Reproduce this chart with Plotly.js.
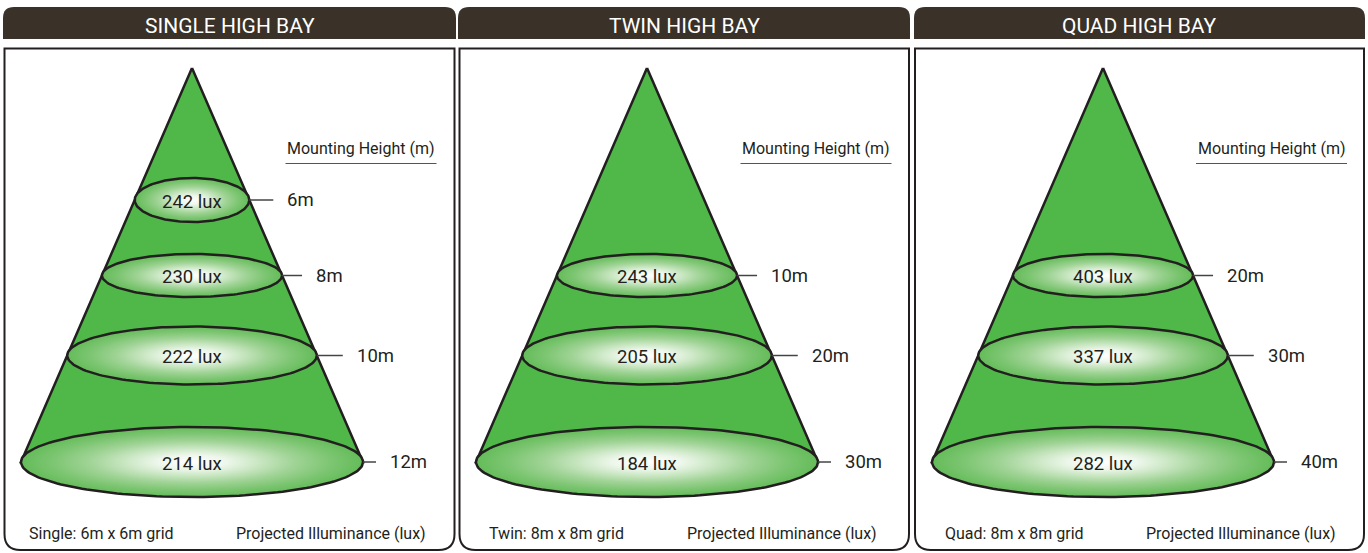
<!DOCTYPE html>
<html>
<head>
<meta charset="utf-8">
<script src="https://cdn.plot.ly/plotly-3.0.1.min.js"></script>
<style>
  html, body { margin: 0; padding: 0; background: #ffffff; }
  #chart { width: 1368px; height: 553px; }
</style>
</head>
<body>
<div id="chart"></div>
<script>
// ---------------- DATA ----------------
const panelTitles = ["SINGLE HIGH BAY", "TWIN HIGH BAY", "QUAD HIGH BAY"];
const gridNotes = ["Single: 6m x 6m grid", "Twin: 8m x 8m grid", "Quad: 8m x 8m grid"];
const axisNote = "Projected Illuminance (lux)";
const heightNote = "Mounting Height (m)";

const singleHeights = [6, 8, 10, 12];
const singleLux = [242, 230, 222, 214];
const twinHeights = [10, 20, 30];
const twinLux = [243, 205, 184];
const quadHeights = [20, 30, 40];
const quadLux = [403, 337, 282];

// ---------------- LAYOUT / GEOMETRY (positions, sizes, styles) ----------------
const W = 1368, H = 553;
const headerLeft = [3, 458, 914];
const headerRight = [456, 910, 1365];
const boxLeft = [4.5, 459.5, 915];
const boxRight = [454.5, 909, 1364];
const coneCx = [192, 647, 1103];
const apexY = 68, baseY = 462, baseRx = 171;
// ring levels inside a cone: centre y, vertical radius, tick length
const levelY = { A: 200, B: 275.5, C: 355.5, D: 462 };
const levelRy = { A: 22, B: 21.5, C: 29, D: 35 };
const levelTick = { A: 24, B: 20, C: 26, D: 13 };
const panelLevels = [["A", "B", "C", "D"], ["B", "C", "D"], ["B", "C", "D"]];
const noteLeft = [27, 487, 943];
const noteRight = [428, 879, 1338];

const FONT = "Roboto, 'DejaVu Sans', sans-serif";
const INK = "#231f20";
const CONE_GREEN = "#4fb848";
const HEADER_BROWN = "#3a3128";
const ringScale = [
  [0, "#ffffff"], [0.2, "#eef7ec"], [0.4, "#c8e6c1"],
  [0.6, "#a0d396"], [0.82, "#7cc571"], [1, "#64bc59"]
];

const panelsData = [
  { heights: singleHeights, lux: singleLux },
  { heights: twinHeights, lux: twinLux },
  { heights: quadHeights, lux: quadLux }
];

const traces = [];
const annotations = [];
const shapes = [];

panelsData.forEach(function (p, i) {
  const cx = coneCx[i];
  // header (rounded top corners)
  const hl = headerLeft[i], hr = headerRight[i], ht = 7, hb = 39, r = 11;
  shapes.push({
    type: "path", xref: "x", yref: "y", layer: "below",
    path: `M ${hl},${hb} L ${hl},${ht + r} Q ${hl},${ht} ${hl + r},${ht} L ${hr - r},${ht} Q ${hr},${ht} ${hr},${ht + r} L ${hr},${hb} Z`,
    fillcolor: HEADER_BROWN, line: { width: 0 }
  });
  annotations.push({
    x: (hl + hr) / 2, y: 26, xref: "x", yref: "y", text: panelTitles[i],
    showarrow: false, xanchor: "center", yanchor: "middle",
    font: { family: FONT, size: 21, color: "#ffffff" }
  });
  // box (rounded bottom corners)
  const bl = boxLeft[i], br = boxRight[i], bt = 48.5, bb = 550, rr = 16;
  shapes.push({
    type: "path", xref: "x", yref: "y", layer: "below",
    path: `M ${bl},${bt} L ${br},${bt} L ${br},${bb - rr} Q ${br},${bb} ${br - rr},${bb} L ${bl + rr},${bb} Q ${bl},${bb} ${bl},${bb - rr} Z`,
    fillcolor: "rgba(0,0,0,0)", line: { color: INK, width: 2 }
  });
  // cone
  traces.push({
    type: "scatter", mode: "lines", hoverinfo: "skip", showlegend: false,
    x: [cx, cx - baseRx, cx + baseRx, cx],
    y: [apexY, baseY, baseY, apexY],
    fill: "toself", fillcolor: CONE_GREEN,
    line: { color: INK, width: 2.5 }
  });
  // rings
  panelLevels[i].forEach(function (lv, k) {
    const cy = levelY[lv], ry = levelRy[lv];
    const rx = baseRx * (cy - apexY) / (baseY - apexY);
    const ex = [], ey = [];
    for (let t = 0; t <= 180; t++) {
      const a = (t / 180) * 2 * Math.PI;
      ex.push(cx + rx * Math.cos(a));
      ey.push(cy + ry * Math.sin(a));
    }
    traces.push({
      type: "scatter", mode: "lines", hoverinfo: "skip", showlegend: false,
      x: ex, y: ey, fill: "toself",
      fillgradient: { type: "radial", colorscale: ringScale },
      line: { color: INK, width: 2.5 }
    });
    const tickStart = cx + rx, tickEnd = cx + rx + levelTick[lv];
    traces.push({
      type: "scatter", mode: "lines", hoverinfo: "skip", showlegend: false,
      x: [tickStart, tickEnd], y: [cy, cy],
      line: { color: "#444444", width: 1.5 }
    });
    annotations.push({
      x: cx, y: cy + 1.5, xref: "x", yref: "y", text: p.lux[k] + " lux",
      showarrow: false, xanchor: "center", yanchor: "middle",
      font: { family: FONT, size: 18.5, color: INK }
    });
    annotations.push({
      x: tickEnd + 12, y: cy, xref: "x", yref: "y", text: p.heights[k] + "m",
      showarrow: false, xanchor: "left", yanchor: "middle",
      font: { family: FONT, size: 18.5, color: INK }
    });
  });
  // mounting height label + underline
  const mhl = bl + 281, mhr = bl + 432;
  annotations.push({
    x: (mhl + mhr) / 2, y: 148, xref: "x", yref: "y", text: heightNote,
    showarrow: false, xanchor: "center", yanchor: "middle",
    font: { family: FONT, size: 16, color: INK }
  });
  shapes.push({
    type: "line", xref: "x", yref: "y", x0: mhl, x1: mhr, y0: 163.5, y1: 163.5,
    line: { color: "#555555", width: 1.2 }
  });
  // bottom notes
  annotations.push({
    x: noteLeft[i], y: 533, xref: "x", yref: "y", text: gridNotes[i],
    showarrow: false, xanchor: "left", yanchor: "middle",
    font: { family: FONT, size: 16, color: INK }
  });
  annotations.push({
    x: noteRight[i], y: 533, xref: "x", yref: "y", text: axisNote,
    showarrow: false, xanchor: "right", yanchor: "middle",
    font: { family: FONT, size: 16, color: INK }
  });
});

const layout = {
  width: W, height: H, autosize: false,
  margin: { l: 0, r: 0, t: 0, b: 0, pad: 0 },
  paper_bgcolor: "#ffffff", plot_bgcolor: "#ffffff",
  xaxis: { range: [0, W], visible: false, fixedrange: true },
  yaxis: { range: [H, 0], visible: false, fixedrange: true },
  showlegend: false,
  shapes: shapes,
  annotations: annotations
};

Plotly.newPlot("chart", traces, layout, { displayModeBar: false, staticPlot: true });
</script>
</body>
</html>
